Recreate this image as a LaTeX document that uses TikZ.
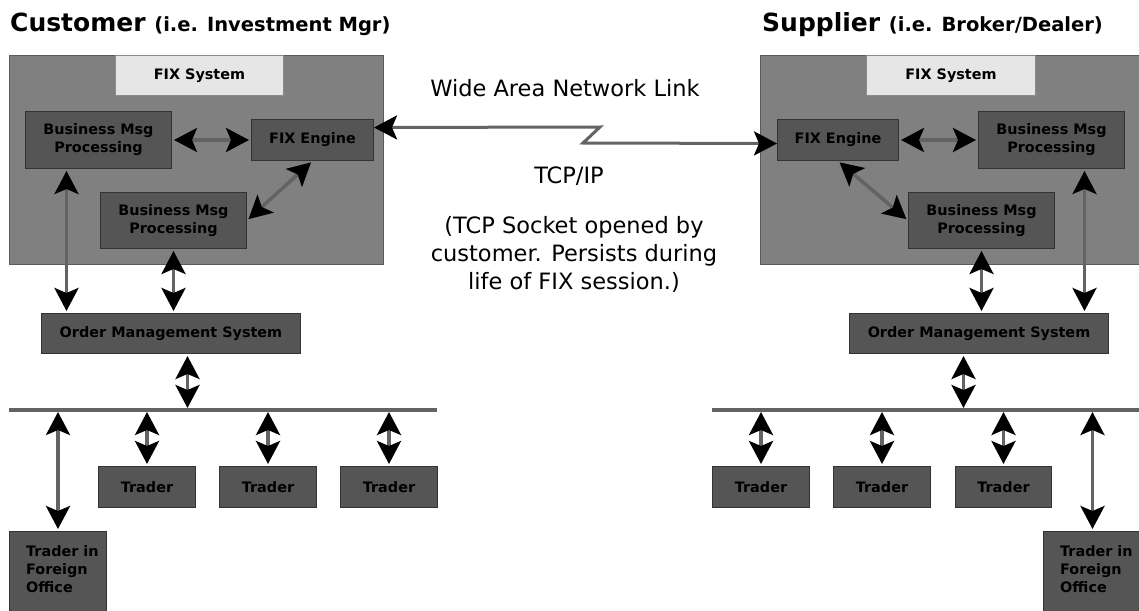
\documentclass[tikz,border=0pt]{standalone}
\usepackage{fontspec}
\setmainfont{DejaVu Sans}
\usetikzlibrary{arrows.meta}
\definecolor{sysgray}{HTML}{808080}
\definecolor{sysedge}{HTML}{5A5A5A}
\definecolor{boxgray}{HTML}{555555}
\definecolor{boxedge}{HTML}{333333}
\definecolor{tabgray}{HTML}{E6E6E6}
\definecolor{linkgray}{HTML}{636363}
\tikzset{
  sysbox/.style={draw=sysedge, fill=sysgray, line width=1pt, anchor=north west, inner sep=0},
  tabbox/.style={draw=sysedge!70, fill=tabgray, line width=1pt, anchor=north west, inner sep=0,
    font=\bfseries\fontsize{14.4}{18}\selectfont},
  msgbox/.style={draw=boxedge, fill=boxgray, line width=1pt, anchor=north west, inner sep=0,
    align=center, font=\bfseries\fontsize{14.4}{18}\selectfont},
  fartext/.style={anchor=north west, inner sep=0, align=left, font=\bfseries\fontsize{14.4}{18}\selectfont},
  twoway/.style={draw=linkgray, line width=3.5pt, shorten <=2pt, shorten >=2pt,
    {Stealth[length=23pt,width=24pt,inset=5pt,black]}-{Stealth[length=23pt,width=24pt,inset=5pt,black]}},
  bus/.style={draw=linkgray, line width=4pt},
  heading/.style={anchor=base west, inner sep=0},
  note/.style={font=\fontsize{22.5}{28}\selectfont, align=center}
}
\begin{document}
\begin{tikzpicture}[x=1pt,y=-1pt]
\useasboundingbox (0,0) rectangle (1139,610);

% customer side
\node[heading] (chead) at (10,32) {\fontsize{25}{30}\bfseries Customer \fontsize{19.5}{22}\selectfont(i.e. Investment Mgr)};
\node[sysbox, minimum width=374, minimum height=209] (csys) at (9,55) {};
\node[tabbox, minimum width=168, minimum height=40] (ctab) at (115,55) {FIX System};
\node[msgbox, minimum width=146, minimum height=57] (cbmpa) at (25,111) {Business Msg\\Processing};
\node[msgbox, minimum width=122, minimum height=41] (cfix) at (251,119) {FIX Engine};
\node[msgbox, minimum width=146, minimum height=56] (cbmpb) at (100,192) {Business Msg\\Processing};
\node[msgbox, minimum width=259, minimum height=40] (coms) at (41,313) {Order Management System};
\node[msgbox, minimum width=97, minimum height=41] (ctra) at (98,466) {Trader};
\node[msgbox, minimum width=97, minimum height=41] (ctrb) at (219,466) {Trader};
\node[msgbox, minimum width=97, minimum height=41] (ctrc) at (340,466) {Trader};
\node[msgbox, minimum width=97, minimum height=85] (cfar) at (9,531) {};
\node[fartext] (cfartxt) at (26,545) {Trader in\\Foreign\\Office};
\coordinate (cbusw) at (9,410);
\coordinate (cbuse) at (437,410);
\coordinate (cdropa) at ([xshift=-32pt]cbmpa.south);
\coordinate (cdropb) at ([xshift=16.5pt]coms.south);
\coordinate (cwan) at ([yshift=12.5pt]cfix.east);

\draw[bus] (cbusw) -- (cbuse);
\draw[twoway] (cbmpa) -- (cfix);
\draw[twoway] (cfix.south) -- (cbmpb.east);
\draw[twoway] (cdropa) -- (cdropa |- coms.north);
\draw[twoway] (cbmpb.south) -- (cbmpb.south |- coms.north);
\draw[twoway] (cdropb) -- (cdropb |- cbusw);
\foreach \t in {ctra,ctrb,ctrc,cfar}
  \draw[twoway] (\t.north |- cbusw) -- (\t.north);

% supplier side
\node[heading] (shead) at (762,32) {\fontsize{25}{30}\bfseries Supplier \fontsize{19.5}{22}\selectfont(i.e. Broker/Dealer)};
\node[sysbox, minimum width=385, minimum height=209] (ssys) at (760,55) {};
\node[tabbox, minimum width=169, minimum height=40] (stab) at (866,55) {FIX System};
\node[msgbox, minimum width=121, minimum height=41] (sfix) at (777,119) {FIX Engine};
\node[msgbox, minimum width=146, minimum height=57] (sbmpa) at (978,111) {Business Msg\\Processing};
\node[msgbox, minimum width=146, minimum height=56] (sbmpb) at (908,192) {Business Msg\\Processing};
\node[msgbox, minimum width=259, minimum height=40] (soms) at (849,313) {Order Management System};
\node[msgbox, minimum width=97, minimum height=41] (stra) at (712,466) {Trader};
\node[msgbox, minimum width=97, minimum height=41] (strb) at (833,466) {Trader};
\node[msgbox, minimum width=96, minimum height=41] (strc) at (955,466) {Trader};
\node[msgbox, minimum width=100, minimum height=85] (sfar) at (1043,531) {};
\node[fartext] (sfartxt) at (1060,545) {Trader in\\Foreign\\Office};
\coordinate (sbusw) at (712,410);
\coordinate (sbuse) at (1145,410);
\coordinate (sdropa) at ([xshift=33pt]sbmpa.south);
\coordinate (sdropb) at ([xshift=-15.5pt]soms.south);
\coordinate (swan) at ([yshift=-3.5pt]sfix.west);

\draw[bus] (sbusw) -- (sbuse);
\draw[twoway] (sfix) -- (sbmpa);
\draw[twoway] (sfix.south) -- (sbmpb.west);
\draw[twoway] (sdropa) -- (sdropa |- soms.north);
\draw[twoway] (sbmpb.south) -- (sbmpb.south |- soms.north);
\draw[twoway] (sdropb) -- (sdropb |- sbusw);
\foreach \t in {stra,strb,strc}
  \draw[twoway] (\t.north |- sbusw) -- (\t.north);
\draw[twoway] ([xshift=-1pt]sfar.north |- sbusw) -- ([xshift=-1pt]sfar.north);

% wide area link
\coordinate (zaga) at (600,127);
\coordinate (zagb) at (583,143);
\draw[twoway, line width=3pt, shorten <=0pt, shorten >=0pt] (cwan) -- (zaga) -- (zagb) -- (swan);
\node[note] (wan) at (565,88) {Wide Area Network Link};
\node[note] (tcp) at (569,176) {TCP/IP};
\node[note] (sock) at (574,254) {(TCP Socket opened by\\customer. Persists during\\life of FIX session.)};
\end{tikzpicture}
\end{document}
